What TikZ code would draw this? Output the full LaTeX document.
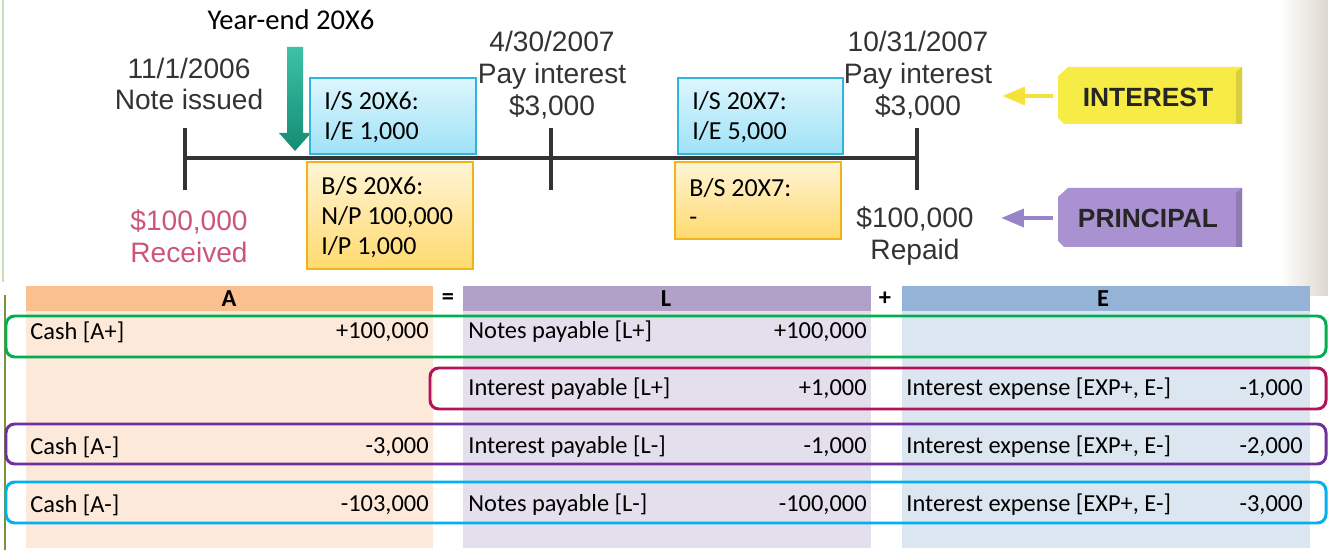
\documentclass[tikz,border=0pt]{standalone}
\usepackage{fontspec}
\setmainfont{Carlito}
\newfontfamily\tlfont{Liberation Sans}
\usetikzlibrary{arrows.meta}

\definecolor{tlgray}{HTML}{333333}
\definecolor{istop}{HTML}{DDF6FD}
\definecolor{isbot}{HTML}{9FE2F7}
\definecolor{isedge}{HTML}{2FB4DC}
\definecolor{bstop}{HTML}{FFF4D6}
\definecolor{bsbot}{HTML}{FFDA6E}
\definecolor{bsedge}{HTML}{F2B41C}
\definecolor{teallight}{HTML}{3DC2A6}
\definecolor{tealdark}{HTML}{138C74}
\definecolor{recvpink}{HTML}{CC5678}
\definecolor{tagyellow}{HTML}{F7EB45}
\definecolor{tagpurple}{HTML}{AA92D2}
\definecolor{arryellow}{HTML}{F2E23A}
\definecolor{arrpurple}{HTML}{9A84C9}
\definecolor{headA}{HTML}{FAC090}
\definecolor{headL}{HTML}{B1A0C7}
\definecolor{headE}{HTML}{95B3D7}
\definecolor{bodyA}{HTML}{FDE9D9}
\definecolor{bodyL}{HTML}{E4DFEC}
\definecolor{bodyE}{HTML}{DCE6F1}
\definecolor{rowgreen}{HTML}{00B050}
\definecolor{rowred}{HTML}{B3135B}
\definecolor{rowpurple}{HTML}{7030A0}
\definecolor{rowcyan}{HTML}{00B0F0}
\definecolor{leftlight}{HTML}{C9DFB8}
\definecolor{leftolive}{HTML}{77933C}
\definecolor{pageedge}{HTML}{DDD8D0}

\begin{document}
\begin{tikzpicture}[x=0.02cm,y=-0.02cm,
  tltext/.style={font=\tlfont\fontsize{16}{18}\selectfont, text=tlgray, align=center, inner sep=0pt},
  boxtext/.style={font=\fontsize{14.8}{17}\selectfont, align=left, anchor=west, inner sep=0pt},
  isbox/.style={draw=isedge, line width=0.8pt, top color=istop, bottom color=isbot},
  bsbox/.style={draw=bsedge, line width=0.8pt, top color=bstop, bottom color=bsbot},
  tagtext/.style={font=\tlfont\bfseries\fontsize{15}{18}\selectfont, text=black!85, inner sep=0pt},
  tagarrow/.style={line width=2.5pt, -{Triangle[width=10pt,length=13pt]}},
  cell/.style={font=\fontsize{13.9}{16}\selectfont, inner sep=0pt},
  headcell/.style={font=\bfseries\fontsize{13.9}{16}\selectfont, inner sep=0pt},
  rowbox/.style={line width=1.7pt, rounded corners=5pt}]
\useasboundingbox (0,0) rectangle (1328,550);

% Define the points on the time line
\pgfmathsetmacro{\Tleft}{185};
\pgfmathsetmacro{\Tmid}{551};
\pgfmathsetmacro{\Tright}{917};
\pgfmathsetmacro{\Tline}{158};

% page edge and margin lines
\fill [left color=white, right color=pageedge] (1280,0) rectangle (1328,296);
\draw [leftlight, line width=1.1pt] (3,0) -- (3,282);
\draw [leftolive, line width=1.2pt] (5,295) -- (5,550);

% draw the time line
\draw [tlgray, line width=2.6pt] (\Tleft,\Tline) -- (\Tright,\Tline);
\draw [tlgray, line width=1.8pt] (\Tleft,128) -- (\Tleft,190);
\draw [tlgray, line width=1.8pt] (\Tmid,128) -- (\Tmid,190);
\draw [tlgray, line width=1.8pt] (\Tright,128) -- (\Tright,190);

% year-end arrow
\node [font=\fontsize{16.3}{19}\selectfont, inner sep=0pt] (yearend) at (291,20) {Year-end 20X6};
\draw [draw=none, top color=teallight, bottom color=tealdark]
  (287,47) -- (303,47) -- (303,133) -- (311,133) -- (295,151) -- (279,133) -- (287,133) -- cycle;

% dates above and amounts below the line
\node [tltext] (issued) at (189,84) {11/1/2006\\Note issued};
\node [tltext] (pay1) at (552,75) {4/30/2007\\Pay interest\\\$3,000};
\node [tltext] (pay2) at (918,75) {10/31/2007\\Pay interest\\\$3,000};
\node [tltext, text=recvpink] (received) at (189,236) {\$100,000\\Received};
\node [tltext] (repaid) at (915,236) {\$100,000\\Repaid};

% statement boxes
\draw [isbox] (310,78) rectangle (476,154);
\node [boxtext] (is6) at (324,117) {I/S 20X6:\\I/E 1,000};
\draw [isbox] (678,78) rectangle (843,154);
\node [boxtext] (is7) at (692,117) {I/S 20X7:\\I/E 5,000};
\draw [bsbox] (307,162) rectangle (473,269);
\node [boxtext] (bs6) at (321,217) {B/S 20X6:\\N/P 100,000\\I/P 1,000};
\draw [bsbox] (675,162) rectangle (841,239);
\node [boxtext] (bs7) at (689,202) {B/S 20X7:\\-};

% interest and principal tags
\fill [tagyellow] (1058,118) -- (1058,76) -- (1068,67) -- (1242,67) -- (1242,124) -- (1064,124) -- cycle;
\fill [tagyellow!88!black] (1236,72) -- (1242,67) -- (1242,124) -- (1236,124) -- cycle;
\node [tagtext] (interest) at (1148,97) {INTEREST};
\coordinate (itail) at (1053,96);
\coordinate (itip) at (1002,96);
\draw [tagarrow, arryellow] (itail) -- (itip);

\fill [tagpurple] (1058,241) -- (1058,197) -- (1068,188) -- (1242,188) -- (1242,247) -- (1064,247) -- cycle;
\fill [tagpurple!85!black] (1236,193) -- (1242,188) -- (1242,247) -- (1236,247) -- cycle;
\node [tagtext] (principal) at (1148,218) {PRINCIPAL};
\coordinate (ptail) at (1053,218);
\coordinate (ptip) at (1001,218);
\draw [tagarrow, arrpurple] (ptail) -- (ptip);

%%%%%%%%%%%%%%%%%%%%%%%%%%%%%%%%%%%%%%%%%%%%%%%%%%%%%%%%%%%%%%%%%%%%%%%%%%%%
% Define the rows of the table
\pgfmathsetmacro{\RowA}{332};
\pgfmathsetmacro{\RowB}{389};
\pgfmathsetmacro{\RowC}{447};
\pgfmathsetmacro{\RowD}{505};

% column fills
\fill [headA] (26,286) rectangle (433,311);
\fill [bodyA] (26,311) rectangle (433,548);
\fill [headL] (463,286) rectangle (871,311);
\fill [bodyL] (463,311) rectangle (871,548);
\fill [headE] (902,286) rectangle (1310,311);
\fill [bodyE] (902,311) rectangle (1310,548);

\node [headcell] (hA) at (229,299) {A};
\node [headcell] (heq) at (448,299) {=};
\node [headcell] (hL) at (666,299) {L};
\node [headcell] (hplus) at (885,299) {+};
\node [headcell] (hE) at (1103,299) {E};

% transaction outlines
\draw [rowbox, rowgreen] (6,316) rectangle (1326,357);
\draw [rowbox, rowred] (430,368) rectangle (1326,409);
\draw [rowbox, rowpurple] (6,424) rectangle (1326,464);
\draw [rowbox, rowcyan] (6,482) rectangle (1326,523);

% row 1
\node [cell, anchor=west] (cash1) at (30,\RowA) {Cash [A+]};
\node [cell, anchor=east] (cash1v) at (429,\RowA) {+100,000};
\node [cell, anchor=west] (np1) at (468,\RowA) {Notes payable [L+]};
\node [cell, anchor=east] (np1v) at (867,\RowA) {+100,000};

% row 2
\node [cell, anchor=west] (ip2) at (468,\RowB) {Interest payable [L+]};
\node [cell, anchor=east] (ip2v) at (867,\RowB) {+1,000};
\node [cell, anchor=west] (ie2) at (906,\RowB) {Interest expense [EXP+, E-]};
\node [cell, anchor=east] (ie2v) at (1303,\RowB) {-1,000};

% row 3
\node [cell, anchor=west] (cash3) at (30,\RowC) {Cash [A-]};
\node [cell, anchor=east] (cash3v) at (429,\RowC) {-3,000};
\node [cell, anchor=west] (ip3) at (468,\RowC) {Interest payable [L-]};
\node [cell, anchor=east] (ip3v) at (867,\RowC) {-1,000};
\node [cell, anchor=west] (ie3) at (906,\RowC) {Interest expense [EXP+, E-]};
\node [cell, anchor=east] (ie3v) at (1303,\RowC) {-2,000};

% row 4
\node [cell, anchor=west] (cash4) at (30,\RowD) {Cash [A-]};
\node [cell, anchor=east] (cash4v) at (429,\RowD) {-103,000};
\node [cell, anchor=west] (np4) at (468,\RowD) {Notes payable [L-]};
\node [cell, anchor=east] (np4v) at (867,\RowD) {-100,000};
\node [cell, anchor=west] (ie4) at (906,\RowD) {Interest expense [EXP+, E-]};
\node [cell, anchor=east] (ie4v) at (1303,\RowD) {-3,000};
\end{tikzpicture}
\end{document}
